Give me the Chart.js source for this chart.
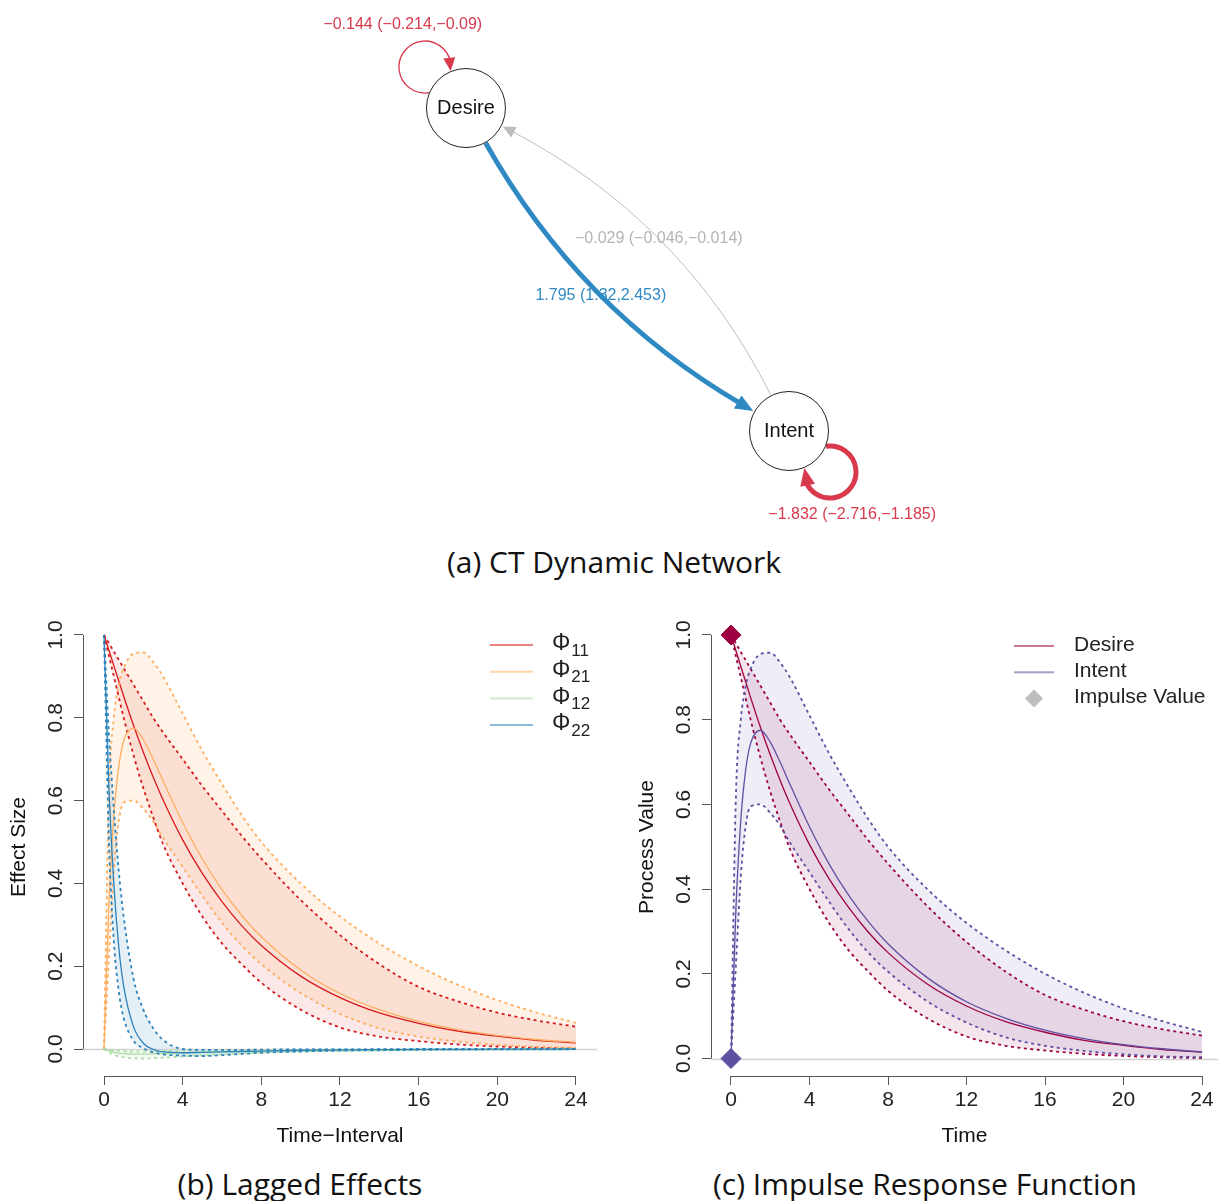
<!DOCTYPE html>
<html lang="en">
<head>
<meta charset="UTF-8">
<title>CT Dynamic Network, Lagged Effects, Impulse Response</title>
<script src="https://cdn.jsdelivr.net/npm/chart.js"></script>
<style>
  body { margin: 0; background: #fff; width: 1218px; height: 1201px; position: relative; overflow: hidden; }
  .box { position: absolute; }
  .cap { position: absolute; font-family: "Open Sans", "Noto Sans", sans-serif; font-size: 30px; line-height: 40px;
         color: #111; white-space: nowrap; transform: translateX(-50%); }
</style>
</head>
<body>
<div class="box" style="left:0;top:0"><canvas id="net" width="1218" height="540"></canvas></div>
<div class="cap" style="left:614px;top:542px">(a) CT Dynamic Network</div>
<div class="box" style="left:0;top:600px"><canvas id="lag" width="609" height="560"></canvas></div>
<div class="box" style="left:609px;top:600px"><canvas id="irf" width="609" height="560"></canvas></div>
<div class="cap" style="left:300px;top:1164px">(b) Lagged Effects</div>
<div class="cap" style="left:925px;top:1164px">(c) Impulse Response Function</div>

<script>
// ---- network (panel a) ----
const nodeNames = ['Desire', 'Intent'];
const nodeX = [-1, 1];
const nodeY = [1, -1];
const edgeFrom = [0, 1, 0, 1];
const edgeTo   = [0, 1, 1, 0];
const edgeEst  = [-0.144, -1.832, 1.795, -0.029];
const edgeLo   = [-0.214, -2.716, 1.32, -0.046];
const edgeHi   = [-0.09, -1.185, 2.453, -0.014];

// ---- lagged effects (panel b) ----
const times   = [0, 0.25, 0.5, 0.75, 1, 1.5, 2, 2.5, 3, 4, 5, 6, 7, 8, 10, 12, 14, 16, 18, 20, 22, 24];
const phi11   = [1, 0.963, 0.926, 0.889, 0.852, 0.782, 0.717, 0.657, 0.602, 0.505, 0.424, 0.356, 0.298, 0.250, 0.176, 0.124, 0.087, 0.062, 0.043, 0.031, 0.021, 0.015];
const phi11Lo = [1, 0.95, 0.90, 0.85, 0.80, 0.71, 0.63, 0.56, 0.495, 0.40, 0.32, 0.255, 0.205, 0.16, 0.095, 0.052, 0.030, 0.019, 0.011, 0.006, 0.003, 0.001];
const phi11Hi = [1, 0.98, 0.96, 0.94, 0.92, 0.88, 0.84, 0.80, 0.765, 0.70, 0.635, 0.575, 0.515, 0.46, 0.36, 0.275, 0.205, 0.15, 0.115, 0.088, 0.069, 0.054];
const phi21   = [0, 0.353, 0.563, 0.682, 0.744, 0.775, 0.747, 0.700, 0.648, 0.547, 0.459, 0.385, 0.323, 0.271, 0.191, 0.134, 0.095, 0.067, 0.047, 0.033, 0.023, 0.016];
const phi21Lo = [0, 0.22, 0.43, 0.55, 0.595, 0.60, 0.58, 0.55, 0.51, 0.44, 0.37, 0.305, 0.25, 0.205, 0.135, 0.085, 0.05, 0.03, 0.018, 0.01, 0.005, 0.003];
const phi21Hi = [0, 0.62, 0.80, 0.88, 0.92, 0.955, 0.958, 0.935, 0.90, 0.81, 0.72, 0.64, 0.565, 0.50, 0.40, 0.32, 0.255, 0.20, 0.155, 0.118, 0.088, 0.063];
const phi12   = [0, -0.004, -0.0075, -0.0097, -0.0113, -0.0125, -0.0123, -0.0117, -0.0108, -0.0088, -0.0073, -0.0062, -0.0052, -0.0044, -0.0031, -0.0022, -0.0015, -0.0011, -0.0008, -0.0005, -0.0004, -0.0003];
const phi12Lo = [0, -0.008, -0.014, -0.018, -0.02, -0.0225, -0.023, -0.022, -0.021, -0.018, -0.0155, -0.013, -0.011, -0.009, -0.0065, -0.005, -0.004, -0.003, -0.0025, -0.002, -0.0015, -0.001];
const phi12Hi = [0, -0.0015, -0.003, -0.004, -0.005, -0.006, -0.006, -0.0055, -0.005, -0.004, -0.0035, -0.003, -0.0025, -0.002, -0.0015, -0.001, -0.0007, -0.0005, -0.0003, -0.0002, -0.0001, 0];
const phi22   = [1, 0.631, 0.398, 0.247, 0.152, 0.054, 0.014, -0.001, -0.007, -0.009, -0.008, -0.007, -0.006, -0.005, -0.003, -0.002, -0.0015, -0.001, -0.0008, -0.0005, -0.0004, -0.0003];
const phi22Lo = [1, 0.50, 0.26, 0.14, 0.075, 0.02, 0.002, -0.008, -0.013, -0.016, -0.017, -0.015, -0.012, -0.009, -0.006, -0.004, -0.003, -0.002, -0.0015, -0.001, -0.0008, -0.0005];
const phi22Hi = [1, 0.76, 0.58, 0.43, 0.32, 0.17, 0.095, 0.05, 0.022, 0.0, -0.002, -0.002, -0.002, -0.0015, -0.001, -0.001, -0.0005, 0, 0, 0, 0, 0];

// ---- impulse response (panel c): impulse of 1 on Desire at time 0 ----
const impulseTime = 0;
const impulseDesire = 1;
const impulseIntent = 0;
const desireIrf = phi11, desireIrfLo = phi11Lo, desireIrfHi = phi11Hi;
const intentIrf = phi21, intentIrfLo = phi21Lo, intentIrfHi = phi21Hi;

const FONT = '"Liberation Sans", Arial, Helvetica, sans-serif';
Chart.defaults.font.family = FONT;
Chart.defaults.font.size = 21;
Chart.defaults.color = '#222';

function rgba(hex, a) {
  const n = parseInt(hex.slice(1), 16);
  return `rgba(${n >> 16},${(n >> 8) & 255},${n & 255},${a})`;
}
const pts = arr => times.map((t, i) => ({ x: t, y: arr[i] }));

// three datasets per series: upper bound (fills down to lower), lower bound, estimate
function band(label, est, lo, hi, col, a) {
  const common = { pointRadius: 0, cubicInterpolationMode: 'monotone', borderColor: col };
  return [
    { ...common, label: label + ' upper', data: pts(hi), borderWidth: 1.8, borderDash: [3, 3.5], fill: '+1', backgroundColor: rgba(col, a) },
    { ...common, label: label + ' lower', data: pts(lo), borderWidth: 1.8, borderDash: [3, 3.5], fill: false },
    { ...common, label: label, data: pts(est), borderWidth: 1.3, fill: false }
  ];
}

// R-like axes: lines between first and last ticks, rotated y labels, grey zero line, legend
const rAxes = {
  id: 'rAxes',
  beforeDatasetsDraw(chart) {
    const { ctx, chartArea: a, scales: { y } } = chart;
    const y0 = Math.round(y.getPixelForValue(0)) + 0.5;
    ctx.save();
    ctx.strokeStyle = '#d3d3d3';
    ctx.lineWidth = 1.3;
    ctx.beginPath(); ctx.moveTo(a.left, y0); ctx.lineTo(a.right, y0); ctx.stroke();
    ctx.restore();
  },
  afterDraw(chart, args, opts) {
    const { ctx, chartArea: a, scales: { x, y } } = chart;
    const xt = x.ticks.map(t => t.value), yt = y.ticks.map(t => t.value);
    ctx.save();
    ctx.strokeStyle = '#555';
    ctx.lineWidth = 1;
    const ax = Math.round(a.left) + 0.5, ay = Math.round(a.bottom) + 0.5;
    ctx.beginPath();
    ctx.moveTo(ax, y.getPixelForValue(yt[0])); ctx.lineTo(ax, y.getPixelForValue(yt[yt.length - 1]));
    ctx.moveTo(x.getPixelForValue(xt[0]), ay); ctx.lineTo(x.getPixelForValue(xt[xt.length - 1]), ay);
    ctx.stroke();

    ctx.fillStyle = '#222';
    ctx.font = '21px ' + FONT;
    ctx.textAlign = 'center';
    ctx.textBaseline = 'middle';
    yt.forEach(v => {
      ctx.save();
      ctx.translate(a.left - 27, y.getPixelForValue(v));
      ctx.rotate(-Math.PI / 2);
      ctx.fillText(v.toFixed(1), 0, 0);
      ctx.restore();
    });

    // legend
    const L = opts.legend;
    L.items.forEach((it, i) => {
      const ry = a.top + L.top + i * L.gap;
      if (it.diamond) {
        const cx = a.right - (L.lineFrom + L.lineTo) / 2;
        ctx.fillStyle = it.color;
        ctx.beginPath();
        ctx.moveTo(cx, ry - 9); ctx.lineTo(cx + 9, ry); ctx.lineTo(cx, ry + 9); ctx.lineTo(cx - 9, ry);
        ctx.closePath(); ctx.fill();
      } else {
        ctx.strokeStyle = rgba(it.color, 0.55);
        ctx.lineWidth = 2;
        ctx.beginPath(); ctx.moveTo(a.right - L.lineFrom, ry); ctx.lineTo(a.right - L.lineTo, ry); ctx.stroke();
      }
      ctx.fillStyle = '#222';
      ctx.textAlign = 'left';
      ctx.font = (it.sub ? '23px ' : '21px ') + FONT;
      ctx.fillText(it.label, a.right - L.text, ry - 1);
      if (it.sub) {
        const w = ctx.measureText(it.label).width;
        ctx.font = '17px ' + FONT;
        ctx.fillText(it.sub, a.right - L.text + w + 1, ry + 6);
      }
    });
    ctx.restore();
  }
};

function plotOptions(o) {
  return {
    responsive: false,
    animation: false,
    events: [],
    layout: { autoPadding: false, padding: { top: 18, right: o.padRight, left: 0, bottom: 0 } },
    plugins: {
      legend: { display: false },
      tooltip: { enabled: false },
      filler: { drawTime: 'beforeDatasetsDraw' },
      rAxes: { legend: o.legend }
    },
    scales: {
      x: {
        type: 'linear', min: o.xMin, max: o.xMax,
        ticks: { stepSize: 4, includeBounds: false, padding: 3, maxRotation: 0, color: '#222' },
        grid: { drawOnChartArea: false, drawTicks: true, tickLength: 9, color: '#555' },
        border: { display: false },
        title: { display: true, text: o.xTitle, color: '#111', font: { size: 21 }, padding: { top: 0, bottom: 11 } },
        afterFit: s => { s.height = 84; }
      },
      y: {
        type: 'linear', min: o.yMin, max: o.yMax,
        ticks: { stepSize: 0.2, includeBounds: false, display: false },
        grid: { drawOnChartArea: false, drawTicks: true, tickLength: 9, color: '#555' },
        border: { display: false },
        title: { display: true, text: o.yTitle, color: '#111', font: { size: 21 }, padding: { top: o.yTitlePad, bottom: 0 } },
        afterFit: s => { s.width = o.yWidth; }
      }
    }
  };
}

// ---- panel b ----
const RED = '#D7191C', ORANGE = '#FDAE61', GREEN = '#ABDDA4', BLUE = '#2B83BA';
new Chart(document.getElementById('lag'), {
  type: 'line',
  data: {
    datasets: [
      ...band('Φ22', phi22, phi22Lo, phi22Hi, BLUE, 0.13),
      ...band('Φ12', phi12, phi12Lo, phi12Hi, GREEN, 0.15),
      ...band('Φ21', phi21, phi21Lo, phi21Hi, ORANGE, 0.15),
      ...band('Φ11', phi11, phi11Lo, phi11Hi, RED, 0.1)
    ]
  },
  options: plotOptions({
    xMin: -1.068, xMax: 25.068, yMin: -0.0652, yMax: 1.041,
    padRight: 12, yWidth: 83, yTitlePad: 7,
    xTitle: 'Time\u2212Interval', yTitle: 'Effect Size',
    legend: {
      top: 27, gap: 26.7, lineFrom: 107, lineTo: 64, text: 45,
      items: [
        { label: 'Φ', sub: '11', color: RED },
        { label: 'Φ', sub: '21', color: ORANGE },
        { label: 'Φ', sub: '12', color: GREEN },
        { label: 'Φ', sub: '22', color: BLUE }
      ]
    }
  }),
  plugins: [rAxes]
});

// ---- panel c ----
const DESIRE = '#9E0142', INTENT = '#5E4FA2';
const irfBand = (label, est, lo, hi, col) => band(label, est, lo, hi, col, 0.1);
new Chart(document.getElementById('irf'), {
  type: 'line',
  data: {
    datasets: [
      { label: 'Impulse Desire', data: [{ x: impulseTime, y: impulseDesire }], showLine: false, pointStyle: 'rectRot',
        pointRadius: 10, backgroundColor: DESIRE, borderColor: DESIRE },
      { label: 'Impulse Intent', data: [{ x: impulseTime, y: impulseIntent }], showLine: false, pointStyle: 'rectRot',
        pointRadius: 10, backgroundColor: INTENT, borderColor: INTENT },
      ...irfBand('Intent', intentIrf, intentIrfLo, intentIrfHi, INTENT),
      ...irfBand('Desire', desireIrf, desireIrfLo, desireIrfHi, DESIRE)
    ]
  },
  options: plotOptions({
    xMin: -1.019, xMax: 24.815, yMin: -0.0413, yMax: 1.040,
    padRight: 0, yWidth: 102, yTitlePad: 26,
    xTitle: 'Time', yTitle: 'Process Value',
    legend: {
      top: 28, gap: 26.3, lineFrom: 204, lineTo: 164, text: 144,
      items: [
        { label: 'Desire', color: DESIRE },
        { label: 'Intent', color: INTENT },
        { label: 'Impulse Value', color: '#BEBEBE', diamond: true }
      ]
    }
  }),
  plugins: [rAxes]
});

// ---- panel a: network drawn on hidden linear scales ----
const nodeRadius = 39.5;
const edgeColor = ['#D8394D', '#D8394D', '#2F8AC4', '#BDBDBD'];
const edgeWidth = [1.3, 5, 5, 1];
const edgeCurve = [0, 0, 0.14, 0.165];
const edgeLabelColor = ['#D8394D', '#D8394D', '#2F8AC4', '#B4B4B4'];
const loopDist = 58, loopRadius = 26;

const minus = v => String(v).replace('-', '\u2212');
const qpt = (a, c, b, t) => ({ x: (1 - t) * (1 - t) * a.x + 2 * (1 - t) * t * c.x + t * t * b.x,
                               y: (1 - t) * (1 - t) * a.y + 2 * (1 - t) * t * c.y + t * t * b.y });
const unit = (dx, dy) => { const l = Math.hypot(dx, dy); return { x: dx / l, y: dy / l }; };

function arrowHead(ctx, tip, base, W) {
  const u = unit(tip.x - base.x, tip.y - base.y);
  const px = -u.y * W / 2, py = u.x * W / 2;
  ctx.beginPath();
  ctx.moveTo(tip.x, tip.y);
  ctx.lineTo(base.x + px, base.y + py);
  ctx.lineTo(base.x - px, base.y - py);
  ctx.closePath();
  ctx.fill();
}

function netGeometry(chart) {
  const { x, y } = chart.scales;
  const P = nodeNames.map((_, i) => ({ x: x.getPixelForValue(nodeX[i]), y: y.getPixelForValue(nodeY[i]) }));
  const cen = { x: P.reduce((s, p) => s + p.x, 0) / P.length, y: P.reduce((s, p) => s + p.y, 0) / P.length };
  const R = nodeRadius + 0.5;
  return edgeFrom.map((f, k) => {
    const t = edgeTo[k], w = edgeWidth[k];
    const e = { k, w, Lh: 12 + w * 1.2, W: 11 + w * 0.8 };
    if (f === t) {
      const N = P[f], u = unit(N.x - cen.x, N.y - cen.y), p = { x: -u.y, y: u.x };
      const d = loopDist, r = loopRadius;
      const a = (d * d + R * R - r * r) / (2 * d), h = Math.sqrt(R * R - a * a);
      e.loop = true;
      e.L = { x: N.x + u.x * d, y: N.y + u.y * d };
      e.Ps = { x: N.x + u.x * a - p.x * h, y: N.y + u.y * a - p.y * h };
      e.Pe = { x: N.x + u.x * a + p.x * h, y: N.y + u.y * a + p.y * h };
      const rot = 8 * Math.PI / 180;
      const lu = { x: u.x * Math.cos(rot) - u.y * Math.sin(rot), y: u.x * Math.sin(rot) + u.y * Math.cos(rot) };
      e.label = { x: N.x + lu.x * 105, y: N.y + lu.y * 105 };
    } else {
      const A = P[f], B = P[t];
      const dist = Math.hypot(B.x - A.x, B.y - A.y);
      const dir = unit(B.x - A.x, B.y - A.y);
      const C = { x: (A.x + B.x) / 2 - dir.y * edgeCurve[k] * dist, y: (A.y + B.y) / 2 + dir.x * edgeCurve[k] * dist };
      const us = unit(C.x - A.x, C.y - A.y), ue = unit(C.x - B.x, C.y - B.y);
      e.S = { x: A.x + us.x * R, y: A.y + us.y * R };
      e.E = { x: B.x + ue.x * (R + 1), y: B.y + ue.y * (R + 1) };
      e.C = C;
      e.label = qpt(e.S, C, e.E, 0.5);
    }
    return e;
  });
}

const netDraw = {
  id: 'netDraw',
  beforeDatasetsDraw(chart) {
    const ctx = chart.ctx;
    netGeometry(chart).forEach(e => {
      ctx.save();
      ctx.strokeStyle = edgeColor[e.k];
      ctx.fillStyle = edgeColor[e.k];
      ctx.lineWidth = e.w;
      if (e.loop) {
        const r = loopRadius;
        const ts = Math.atan2(e.Ps.y - e.L.y, e.Ps.x - e.L.x);
        let te = Math.atan2(e.Pe.y - e.L.y, e.Pe.x - e.L.x);
        while (te <= ts) te += 2 * Math.PI;
        const dA = e.Lh / r;
        ctx.beginPath();
        ctx.arc(e.L.x, e.L.y, r, ts, te - dA * 0.7);
        ctx.stroke();
        arrowHead(ctx, e.Pe, { x: e.L.x + r * Math.cos(te - dA), y: e.L.y + r * Math.sin(te - dA) }, e.W);
      } else {
        let tb = 1, tl = 1;
        for (let t = 1; t > 0; t -= 0.002) {
          const q = qpt(e.S, e.C, e.E, t), dd = Math.hypot(q.x - e.E.x, q.y - e.E.y);
          if (dd < e.Lh * 0.7) tl = t;
          if (dd < e.Lh) tb = t; else break;
        }
        const end = qpt(e.S, e.C, e.E, tl);
        const c1 = { x: e.S.x + (e.C.x - e.S.x) * tl, y: e.S.y + (e.C.y - e.S.y) * tl };
        ctx.beginPath();
        ctx.moveTo(e.S.x, e.S.y);
        ctx.quadraticCurveTo(c1.x, c1.y, end.x, end.y);
        ctx.stroke();
        arrowHead(ctx, e.E, qpt(e.S, e.C, e.E, tb), e.W);
      }
      ctx.restore();
    });
  },
  afterDatasetsDraw(chart) {
    const { ctx, scales: { x, y } } = chart;
    ctx.save();
    ctx.textAlign = 'center';
    ctx.textBaseline = 'middle';
    ctx.font = '20px ' + FONT;
    ctx.fillStyle = '#111';
    nodeNames.forEach((n, i) => ctx.fillText(n, x.getPixelForValue(nodeX[i]), y.getPixelForValue(nodeY[i])));
    ctx.font = '16px ' + FONT;
    netGeometry(chart).forEach(e => {
      ctx.fillStyle = edgeLabelColor[e.k];
      const txt = `${minus(edgeEst[e.k])} (${minus(edgeLo[e.k])},${minus(edgeHi[e.k])})`;
      ctx.fillText(txt, e.label.x, e.label.y);
    });
    ctx.restore();
  }
};

new Chart(document.getElementById('net'), {
  type: 'scatter',
  data: {
    datasets: [{
      label: 'nodes',
      data: nodeX.map((v, i) => ({ x: v, y: nodeY[i] })),
      pointRadius: nodeRadius, backgroundColor: '#fff', borderColor: '#222', borderWidth: 1
    }]
  },
  options: {
    responsive: false,
    animation: false,
    events: [],
    layout: { autoPadding: false, padding: 0 },
    plugins: { legend: { display: false }, tooltip: { enabled: false } },
    scales: {
      x: { display: false, min: -3.885, max: 3.656 },
      y: { display: false, min: -1.675, max: 1.669 }
    }
  },
  plugins: [netDraw]
});
</script>
</body>
</html>
